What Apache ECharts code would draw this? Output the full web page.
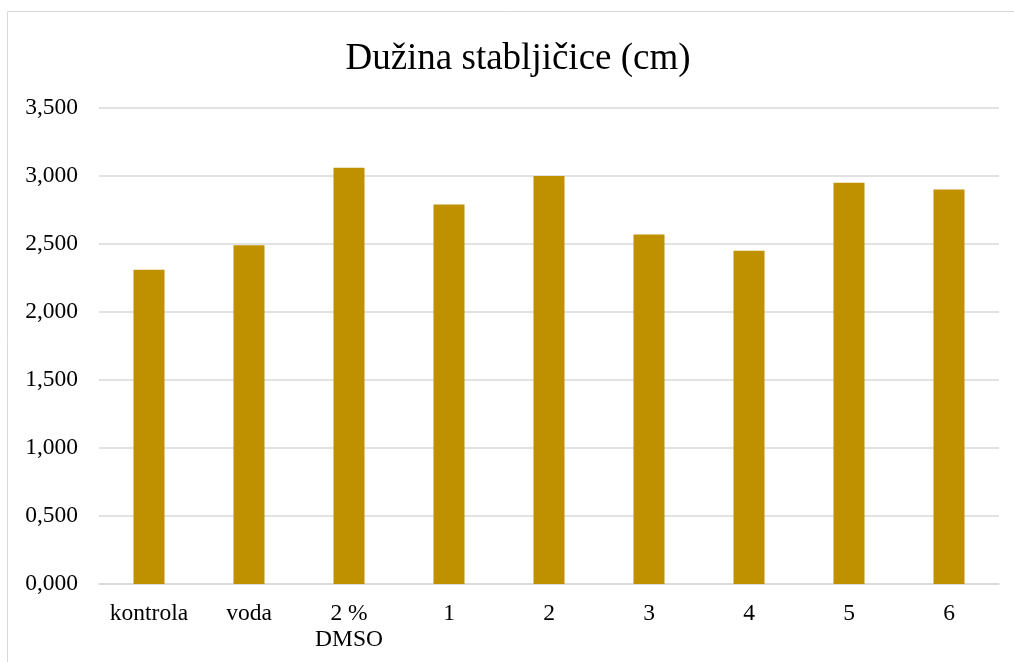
<!DOCTYPE html>
<html>
<head>
<meta charset="utf-8">
<script src="https://cdn.jsdelivr.net/npm/echarts@6/dist/echarts.min.js"></script>
<style>
html,body{margin:0;padding:0;background:#fff;}
#chart{width:1014px;height:662px;}
</style>
</head>
<body>
<div id="chart"></div>
<script>
var titleText = 'Dužina stabljičice (cm)';
var categories = ['kontrola', 'voda', '2 %\nDMSO', '1', '2', '3', '4', '5', '6'];
var values = [2.31, 2.49, 3.06, 2.79, 3.00, 2.57, 2.45, 2.95, 2.90];
var yMin = 0, yMax = 3.5, yStep = 0.5;

var font = '"Liberation Serif", "Times New Roman", serif';
var chart = echarts.init(document.getElementById('chart'));
chart.setOption({
  animation: false,
  backgroundColor: '#ffffff',
  title: {
    text: titleText,
    left: 513,
    top: 36,
    textAlign: 'center',
    textStyle: { fontFamily: font, fontSize: 37, fontWeight: 'normal', color: '#000' }
  },
  graphic: [{
    type: 'rect',
    shape: { x: 7.5, y: 11.5, width: 1200, height: 1000 },
    style: { fill: 'none', stroke: '#d9d9d9', lineWidth: 1 },
    silent: true
  }],
  grid: { left: 99, right: 15, top: 108, bottom: 78, containLabel: false },
  xAxis: {
    type: 'category',
    data: categories,
    axisLine: { show: true, lineStyle: { color: '#d9d9d9', width: 1.5 } },
    axisTick: { show: false },
    axisLabel: { fontFamily: font, fontSize: 23.5, color: '#000', margin: 17, lineHeight: 26, interval: 0 }
  },
  yAxis: {
    type: 'value',
    min: yMin, max: yMax, interval: yStep,
    axisLine: { show: false },
    axisTick: { show: false },
    splitLine: { lineStyle: { color: '#d9d9d9', width: 1.5 } },
    axisLabel: {
      fontFamily: font, fontSize: 23.5, color: '#000', margin: 21,
      formatter: function (v) { return v.toFixed(3).replace('.', ','); }
    }
  },
  series: [{
    type: 'bar',
    data: values,
    barWidth: 31,
    itemStyle: { color: '#bf9000' }
  }]
});
</script>
</body>
</html>
